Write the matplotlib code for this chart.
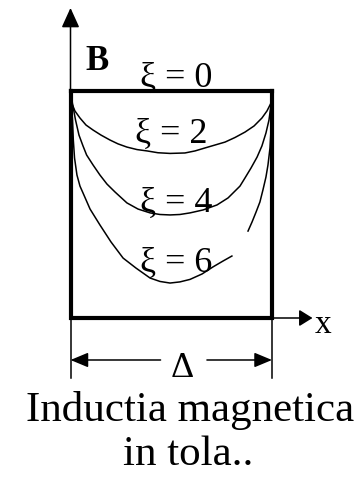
import matplotlib
matplotlib.use("Agg")
import matplotlib.pyplot as plt

plt.rcParams['font.family'] = ['Liberation Serif', 'DejaVu Serif']

# field profiles across the sheet: u = x/Delta, b = B/B_surface
xi_labels = ["ξ = 0", "ξ = 2", "ξ = 4", "ξ = 6"]

u_xi0 = [0.0, 1.0]
b_xi0 = [1.0, 1.0]

u_xi2 = [0.0, 0.006, 0.022, 0.047, 0.077, 0.112, 0.151, 0.196, 0.236, 0.280, 0.330,
         0.380, 0.434, 0.494, 0.568, 0.618, 0.667, 0.717, 0.767, 0.816, 0.866, 0.911,
         0.950, 0.975, 0.995, 1.0]
b_xi2 = [1.0, 0.947, 0.912, 0.881, 0.850, 0.828, 0.806, 0.784, 0.767, 0.753, 0.742,
         0.736, 0.728, 0.725, 0.727, 0.736, 0.749, 0.762, 0.775, 0.795, 0.819, 0.846,
         0.881, 0.912, 0.947, 1.0]

u_xi4 = [0.0, 0.011, 0.025, 0.042, 0.062, 0.080, 0.112, 0.146, 0.181, 0.221, 0.280,
         0.335, 0.395, 0.444, 0.494, 0.543, 0.593, 0.658, 0.727, 0.782, 0.841, 0.866,
         0.896, 0.926, 0.950, 0.970, 0.985, 0.995, 1.0]
b_xi4 = [1.0, 0.938, 0.872, 0.806, 0.758, 0.718, 0.674, 0.630, 0.590, 0.555, 0.507,
         0.480, 0.463, 0.456, 0.454, 0.456, 0.463, 0.476, 0.498, 0.529, 0.581, 0.617,
         0.661, 0.709, 0.758, 0.815, 0.872, 0.938, 1.0]

# xi = 6 is drawn in two pieces (break on the right flank)
u_xi6a = [0.0, 0.005, 0.010, 0.014, 0.020, 0.032, 0.047, 0.062, 0.097, 0.146, 0.201,
          0.261, 0.325, 0.395, 0.444, 0.494, 0.543, 0.593, 0.653, 0.707, 0.757, 0.801]
b_xi6a = [1.0, 0.938, 0.872, 0.784, 0.705, 0.630, 0.581, 0.551, 0.480, 0.410, 0.335,
          0.264, 0.220, 0.176, 0.161, 0.154, 0.159, 0.170, 0.194, 0.225, 0.251, 0.273]
u_xi6b = [0.881, 0.901, 0.921, 0.940, 0.955, 0.970, 0.980, 0.990, 0.995, 0.999, 1.0]
b_xi6b = [0.383, 0.423, 0.467, 0.511, 0.564, 0.621, 0.674, 0.749, 0.828, 0.916, 1.0]

W, H = 357, 478
fig = plt.figure(figsize=(W / 100, H / 100), dpi=100)
ax = fig.add_axes([70.5 / W, 160 / H, 201.5 / W, 227 / H])
ax.set_xlim(0, 1)
ax.set_ylim(0, 1)
ax.axis('off')

# sheet outline (top edge is the xi = 0 profile)
ax.plot([0, 0, 1, 1], [1, 0, 0, 1], color='black', lw=3, clip_on=False,
        solid_joinstyle='miter', solid_capstyle='projecting')
ax.plot(u_xi0, b_xi0, color='black', lw=3, clip_on=False, solid_capstyle='projecting')

for u, b in [(u_xi2, b_xi2), (u_xi4, b_xi4), (u_xi6a, b_xi6a), (u_xi6b, b_xi6b)]:
    ax.plot(u, b, color='black', lw=1.1, clip_on=False)

# axes arrows
ax.annotate('', xy=(0, 1.366), xytext=(0, 0), annotation_clip=False,
            arrowprops=dict(arrowstyle='-|>,head_length=0.55,head_width=0.25',
                            color='black', lw=1.1, mutation_scale=22, shrinkA=0, shrinkB=0))
ax.annotate('', xy=(1.201, 0), xytext=(1.0, 0), annotation_clip=False,
            arrowprops=dict(arrowstyle='-|>,head_length=0.45,head_width=0.28',
                            color='black', lw=1.1, mutation_scale=18, shrinkA=0, shrinkB=0))
ax.text(1.21, -0.066, 'x', fontsize=24, ha='left', va='baseline')
ax.text(0.072, 1.093, 'B', fontsize=25, fontweight='bold', ha='left', va='baseline')

# thickness dimension
for ux in (0, 1):
    ax.plot([ux, ux], [0, -0.264], color='black', lw=1.1, clip_on=False)
dim_style = dict(arrowstyle='-|>,head_length=0.6,head_width=0.25', color='black',
                 lw=1.1, mutation_scale=18, shrinkA=0, shrinkB=0)
ax.annotate('', xy=(0, -0.185), xytext=(0.447, -0.185), annotation_clip=False,
            arrowprops=dim_style)
ax.annotate('', xy=(1, -0.185), xytext=(0.677, -0.185), annotation_clip=False,
            arrowprops=dim_style)
ax.text(0.556, -0.26, 'Δ', fontsize=26, ha='center', va='baseline')

# curve labels
label_pos = [(0.524, 1.018), (0.50, 0.771), (0.526, 0.467), (0.526, 0.203)]
for txt, (lx, ly) in zip(xi_labels, label_pos):
    ax.text(lx, ly, txt, fontsize=26, ha='center', va='baseline')

fig.text(190 / W, 1 - 421 / H, 'Inductia magnetica', fontsize=31,
         ha='center', va='baseline')
fig.text(188 / W, 1 - 465 / H, 'in tola..', fontsize=31, ha='center', va='baseline')

fig.savefig('out.png', dpi=100)
